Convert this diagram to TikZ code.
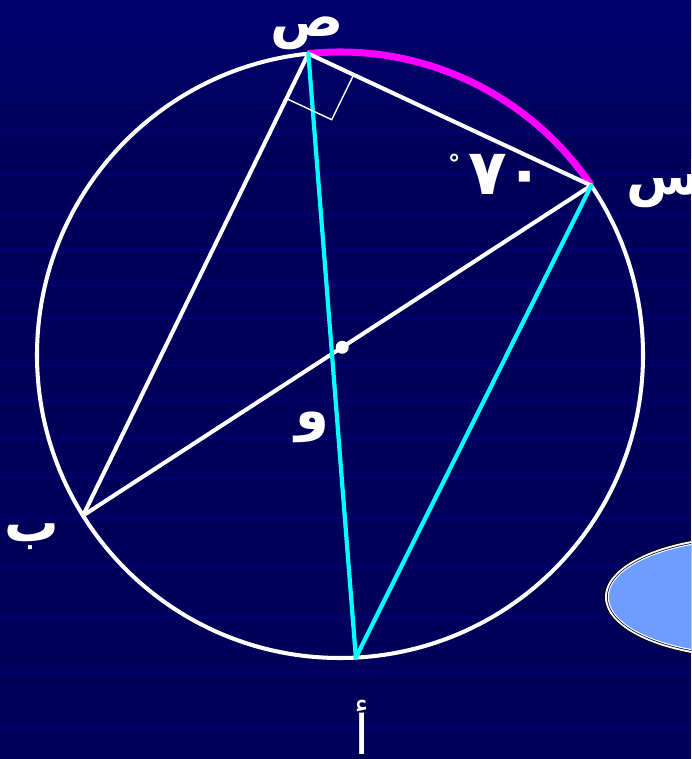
\documentclass[tikz,border=0pt]{standalone}
\usepackage{fontspec}
\newfontfamily\arabicfont[Script=Arabic]{DejaVu Sans}
\TeXXeTstate=1
\usetikzlibrary{calc}

\definecolor{bgnavy}{RGB}{0,0,90}
\definecolor{bgtop}{RGB}{0,0,110}
\definecolor{bgstripe}{RGB}{0,0,118}
\definecolor{ovalblue}{RGB}{110,156,255}
\definecolor{cyanline}{RGB}{0,255,255}
\definecolor{magline}{RGB}{255,0,255}

\begin{document}
\begin{tikzpicture}[
  x=0.02cm, y=0.02cm,
  chord/.style    ={draw=white, line width=2.3pt, line cap=round},
  cyanchord/.style={draw=cyanline, line width=2.4pt, line cap=round},
  lbl/.style      ={text=white, inner sep=0pt, font=\arabicfont\bfseries\fontsize{31}{33}\selectfont},
]

% ---- background ----
\useasboundingbox (0,0) rectangle (691,759);
\clip (0,0) rectangle (691,759);
\fill[bgnavy] (0,0) rectangle (691,759);
\shade[top color=bgtop, bottom color=bgnavy] (0,600) rectangle (691,759);
\foreach \yy in {627,584,544,509,474,441,394,359,321,282,241,192,142,87,31}
  \fill[bgstripe] (0,\yy-1) rectangle (691,\yy+1);

% ---- oval (bottom right) ----
\coordinate (oval) at (749,162);
\foreach \d/\c in {5/black,4/white,2/bgnavy,1.2/white}
  \fill[\c] (oval) ellipse [x radius=140+\d, y radius=57+\d];
\fill[ovalblue] (oval) ellipse [x radius=140, y radius=57];

% ---- circle and its points ----
\coordinate (ctr)  at (340,404);
\coordinate (sad)  at ($(ctr)+(96:303)$);
\coordinate (sin)  at ($(ctr)+(34:303)$);
\coordinate (ba)   at ($(ctr)+(212:303)$);
\coordinate (alef) at ($(ctr)+(273:303)$);
\coordinate (waw)  at ($(ba)!0.51!(sin)$);

\draw[white, line width=2.3pt] (ctr) circle [radius=303];
\draw[magline, line width=4pt] (sad) arc [start angle=96, end angle=34, radius=303];

% ---- chords ----
\draw[chord] (sad) -- (ba);
\draw[chord] (sad) -- (sin);
\draw[chord] (sin) -- (ba);
\draw[cyanchord] (sad) -- (alef);
\draw[cyanchord] (sin) -- (alef);

% right angle at sad
\coordinate (ra1) at ($(sad)!1cm!(ba)$);
\coordinate (ra2) at ($(sad)!1cm!(sin)$);
\draw[white, line width=0.8pt] (ra1) -- ($(ra1)+(ra2)-(sad)$) -- (ra2);

\node[circle, fill=white, inner sep=0pt, minimum size=2.6mm] (dot) at (waw) {};

% ---- labels ----
\node[lbl] (lsad)  at (307,726) {\beginR ص\endR};
\node[lbl] (lsin)  at (664,568) {\beginR س\endR};
\node[lbl] (lba)   at (32,222)  {\beginR ب\endR};
\node[lbl] (lwaw)  at (312,332) {\beginR و\endR};
\node[lbl, font=\arabicfont\fontsize{31}{33}\selectfont] (lalef) at (362,32) {\beginR أ\endR};
\node[lbl, font=\arabicfont\bfseries\fontsize{36}{38}\selectfont] (ldeg) at (496,585)
  {\raisebox{12pt}{\fontsize{14}{16}\selectfont °}\hspace{4.7pt}٧\hspace{-1pt}٠};

\end{tikzpicture}
\end{document}
